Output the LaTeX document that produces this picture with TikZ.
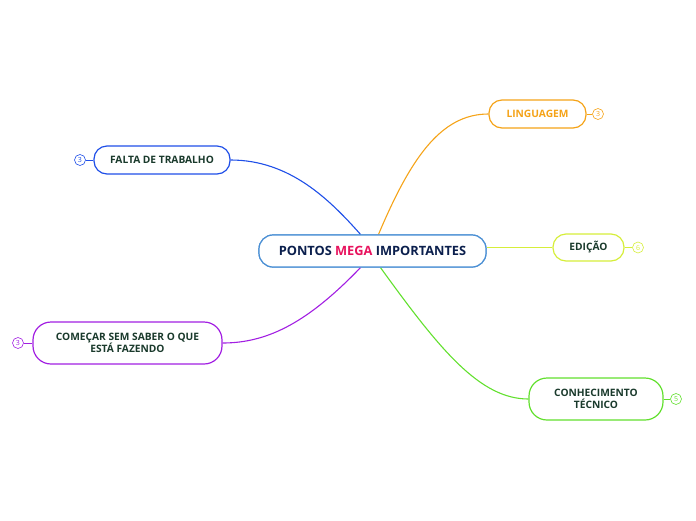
\documentclass[tikz,border=0pt]{standalone}
\usepackage{fontspec}
\setmainfont{Open Sans}
\definecolor{navy}{HTML}{0B1F4D}
\definecolor{mega}{HTML}{E8135E}
\definecolor{cblue}{HTML}{4A8FD4}
\definecolor{dgreen}{HTML}{1A3A2C}
\definecolor{corange}{HTML}{F5A318}
\definecolor{cyel}{HTML}{D6EE3A}
\definecolor{cgreen}{HTML}{62E02E}
\definecolor{cpurple}{HTML}{A21FE2}
\definecolor{cbl}{HTML}{1F4FE8}
\tikzset{
  topic/.style={draw, line width=1.2pt, rounded corners=13pt, fill=white, align=center,
     font=\fontsize{10.2}{12.5}\selectfont\bfseries, text=dgreen, inner sep=0pt},
  badge/.style={draw, circle, line width=0.6pt, minimum size=11pt, inner sep=0pt,
     font=\fontsize{7}{7}\selectfont},
  conn/.style={line width=1.1pt},
  central/.style={draw=cblue, line width=1.2pt, rounded corners=14pt, minimum width=227pt, minimum height=32pt,
     fill=white, inner sep=0pt, font=\fontsize{12.8}{15}\selectfont\bfseries, text=navy},
}
\begin{document}
\begin{tikzpicture}[x=1pt,y=-1pt]
\useasboundingbox (0,0) rectangle (696,520);
% central
\node[central] (c) at (372.5,251) {PONTOS \textcolor{mega}{MEGA} IMPORTANTES};
% topics
\node[topic, draw=corange, text=corange, minimum width=97pt, minimum height=28pt] (ling) at (537.5,114) {LINGUAGEM};
\node[topic, draw=cyel, minimum width=71pt, minimum height=27pt] (edic) at (588.5,247.5) {EDIÇÃO};
\node[topic, draw=cgreen, minimum width=134pt, minimum height=42pt, rounded corners=18pt] (conh) at (596,399) {CONHECIMENTO\\TÉCNICO};
\node[topic, draw=cpurple, minimum width=189pt, minimum height=42pt, rounded corners=18pt] (come) at (127.5,343) {COMEÇAR SEM SABER O QUE\\ESTÁ FAZENDO};
\node[topic, draw=cbl, minimum width=136pt, minimum height=28pt] (falt) at (162,160) {FALTA DE TRABALHO};
% badges
\node[badge, draw=corange, text=corange] (b1) at (598,114) {3};
\node[badge, draw=cyel, text=cyel] (b2) at (638,247.5) {6};
\node[badge, draw=cgreen, text=cgreen] (b3) at (676,399) {5};
\node[badge, draw=cpurple, text=cpurple] (b4) at (18,343) {3};
\node[badge, draw=cbl, text=cbl] (b5) at (80,160) {3};
% badge links
\draw[corange, line width=0.8pt] (ling.east) -- (b1.west);
\draw[cyel, line width=0.8pt] (edic.east) -- (b2.west);
\draw[cgreen, line width=0.8pt] (conh.east) -- (b3.west);
\draw[cpurple, line width=0.8pt] (come.west) -- (b4.east);
\draw[cbl, line width=0.8pt] (falt.west) -- (b5.east);
% connectors
\draw[conn, cbl] ([xshift=-12pt]c.north) .. controls (330,200) and (290,160) .. (falt.east);
\draw[conn, corange] ([xshift=6pt]c.north) .. controls (410,160) and (440,114) .. (ling.west);
\draw[conn, cyel] ([yshift=3.5pt]c.east) -- (edic.west);
\draw[conn, cgreen] ([xshift=8pt]c.south) .. controls (440,350) and (480,399) .. (conh.west);
\draw[conn, cpurple] ([xshift=-12pt]c.south) .. controls (310,320) and (270,343) .. (come.east);
% redraw central on top
\node[central] (c2) at (c) {PONTOS \textcolor{mega}{MEGA} IMPORTANTES};
\end{tikzpicture}
\end{document}
